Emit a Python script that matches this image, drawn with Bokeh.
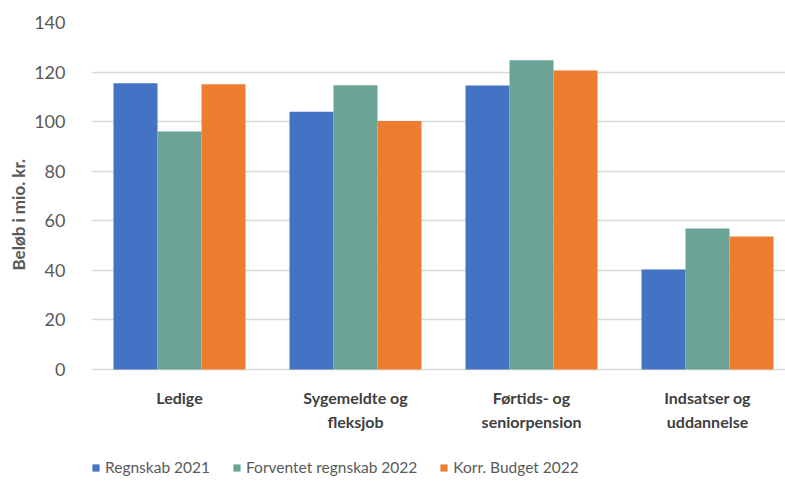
from bokeh.plotting import figure
from bokeh.models import ColumnDataSource, Range1d, FixedTicker, Legend, LegendItem, Title
from bokeh.core.properties import value
from bokeh.embed import file_html
from bokeh.resources import INLINE

categories = ["Ledige", "Sygemeldte og fleksjob", "Førtids- og seniorpension", "Indsatser og uddannelse"]
tick_labels = ["Ledige", "Sygemeldte og\nfleksjob", "Førtids- og\nseniorpension", "Indsatser og\nuddannelse"]
series_names = ["Regnskab 2021", "Forventet regnskab 2022", "Korr. Budget 2022"]
regnskab_2021 = [115.5, 104, 114.6, 40.3]
forventet_2022 = [96, 114.7, 124.8, 56.9]
korr_budget_2022 = [115.1, 100.3, 120.6, 53.7]
y_ticks = [0, 20, 40, 60, 80, 100, 120, 140]
colors = ["#4472C4", "#6BA397", "#ED7D31"]

FONT = "Lato"

p = figure(width=785, height=482, output_backend="svg", toolbar_location=None,
           x_range=Range1d(0, 3.943), y_range=Range1d(-45.59, 140),
           min_border_left=91, min_border_right=0, min_border_top=22, min_border_bottom=0)
p.outline_line_color = None

centers = [i + 0.5 for i in range(len(categories))]
offsets = [-0.25, 0.0, 0.25]
items = []
for vals, off, col, name in zip([regnskab_2021, forventet_2022, korr_budget_2022], offsets, colors, series_names):
    src = ColumnDataSource(dict(x=[c + off for c in centers], top=vals))
    r = p.vbar(x="x", top="top", width=0.25, bottom=0, source=src,
               fill_color=col, line_color=None)
    items.append(LegendItem(label=name, renderers=[r]))

# category labels under the baseline
p.text(x=centers, y=[0] * len(centers), text=tick_labels, y_offset=18,
       text_align="center", text_baseline="top", text_font=value(FONT),
       text_font_style="bold", text_font_size="16px", text_color="#404040",
       text_line_height=1.3)

# axes
p.xaxis.visible = False
p.yaxis.ticker = FixedTicker(ticks=y_ticks)
p.yaxis.axis_line_color = None
p.yaxis.major_tick_line_color = None
p.yaxis.minor_tick_line_color = None
p.yaxis.major_label_text_font = FONT
p.yaxis.major_label_text_font_size = "18px"
p.yaxis.major_label_text_color = "#595959"
p.yaxis.major_label_standoff = 20

p.add_layout(Title(text="Beløb i mio. kr.", align="left", offset=212, standoff=6,
                   text_font=FONT, text_font_style="bold", text_font_size="17px",
                   text_color="#595959"), "left")

p.xgrid.grid_line_color = None
p.ygrid.grid_line_color = "#D9D9D9"
p.ygrid.grid_line_width = 1.5

legend = Legend(items=items, orientation="horizontal", location=(0, 5),
                glyph_width=9, glyph_height=9, label_standoff=5, spacing=22,
                label_height=20, padding=0, margin=0, border_line_color=None,
                background_fill_alpha=0,
                label_text_font=FONT, label_text_font_size="15.5px", label_text_color="#595959")
p.add_layout(legend, "center")

open("out.html", "w").write(file_html(p, INLINE))
